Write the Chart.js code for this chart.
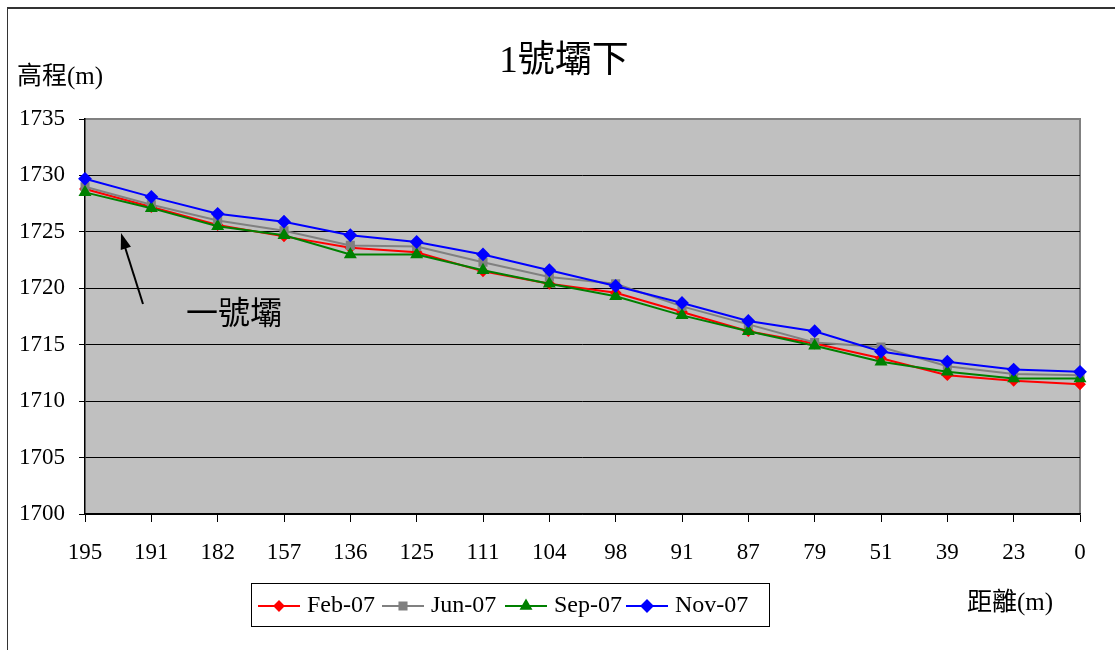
<!DOCTYPE html>
<html>
<head>
<meta charset="utf-8">
<script src="https://cdn.jsdelivr.net/npm/chart.js@4"></script>
<style>
  html, body { margin: 0; padding: 0; background: #fff; overflow: hidden; }
  #frame { position: absolute; left: 7px; top: 7px; width: 1200px; height: 700px;
           border-top: 2px solid #333; border-left: 1px solid #333; }
  #chart { position: absolute; left: 0; top: 0; }
</style>
</head>
<body>
<div id="frame"></div>
<canvas id="chart" width="1115" height="650"></canvas>
<script>
// 距離 (m) 測點
const distances = ['195', '191', '182', '157', '136', '125', '111', '104', '98', '91', '87', '79', '51', '39', '23', '0'];

// 各次測量高程 (m)
const feb07 = [1728.8, 1727.2, 1725.6, 1724.6, 1723.6, 1723.2, 1721.5, 1720.4, 1719.6, 1717.9, 1716.2, 1715.1, 1713.8, 1712.3, 1711.8, 1711.5];
const jun07 = [1729.0, 1727.4, 1726.0, 1725.1, 1723.8, 1723.7, 1722.3, 1721.0, 1720.4, 1718.4, 1716.8, 1715.2, 1714.8, 1713.1, 1712.4, 1712.3];
const sep07 = [1728.5, 1727.1, 1725.5, 1724.7, 1723.0, 1723.0, 1721.6, 1720.4, 1719.3, 1717.6, 1716.2, 1714.9, 1713.5, 1712.6, 1712.0, 1712.0];
const nov07 = [1729.7, 1728.1, 1726.6, 1725.9, 1724.7, 1724.1, 1723.0, 1721.6, 1720.2, 1718.7, 1717.1, 1716.2, 1714.4, 1713.5, 1712.8, 1712.6];

const yMin = 1700;
const yMax = 1735;
const yStep = 5;

const FONT = "'Liberation Serif', 'Noto Sans CJK TC', serif";

// 繪圖區底色與外框
const plotBackground = {
    id: 'plotBackground',
    beforeDraw(chart) {
        const { ctx, chartArea: a } = chart;
        ctx.save();
        ctx.fillStyle = '#c0c0c0';
        ctx.fillRect(a.left, a.top, a.right - a.left, a.bottom - a.top);
        ctx.strokeStyle = '#808080';
        ctx.lineWidth = 2;
        ctx.beginPath();
        ctx.moveTo(a.left, a.top);
        ctx.lineTo(a.right, a.top);
        ctx.lineTo(a.right, a.bottom);
        ctx.stroke();
        ctx.restore();
    }
};

// 標題、軸名稱、圖例與註記
const decorations = {
    id: 'decorations',
    afterDraw(chart) {
        const ctx = chart.ctx;
        ctx.save();
        ctx.fillStyle = '#000';
        ctx.textBaseline = 'middle';

        ctx.font = '37px ' + FONT;
        ctx.textAlign = 'center';
        ctx.fillText('1號壩下', 564, 62);

        ctx.font = '25px ' + FONT;
        ctx.textAlign = 'left';
        ctx.fillText('高程(m)', 17, 77);
        ctx.fillText('距離(m)', 967, 603);

        ctx.font = '32px ' + FONT;
        ctx.fillText('一號壩', 186, 316);

        // 箭頭
        ctx.strokeStyle = '#000';
        ctx.lineWidth = 2;
        ctx.beginPath();
        ctx.moveTo(143, 304);
        ctx.lineTo(124, 244);
        ctx.stroke();
        const ang = Math.atan2(234 - 304, 121 - 143);
        ctx.beginPath();
        ctx.moveTo(121, 233);
        ctx.lineTo(121 - 17 * Math.cos(ang - 0.32), 233 - 17 * Math.sin(ang - 0.32));
        ctx.lineTo(121 - 17 * Math.cos(ang + 0.32), 233 - 17 * Math.sin(ang + 0.32));
        ctx.closePath();
        ctx.fill();

        // 圖例
        ctx.strokeStyle = '#000';
        ctx.lineWidth = 1;
        ctx.strokeRect(251.5, 583.5, 518, 43);
        const itemX = [258, 382, 505, 626];
        ctx.font = '24px ' + FONT;
        chart.data.datasets.forEach((ds, i) => {
            const x = itemX[i];
            const y = 606;
            ctx.strokeStyle = ds.borderColor;
            ctx.lineWidth = 2;
            ctx.beginPath();
            ctx.moveTo(x, y);
            ctx.lineTo(x + 42, y);
            ctx.stroke();
            ctx.fillStyle = ds.pointBackgroundColor;
            ctx.strokeStyle = ds.borderColor;
            Chart.helpers.drawPoint(ctx, {
                pointStyle: ds.pointStyle,
                radius: ds.pointRadius,
                rotation: 0,
                borderWidth: 1
            }, x + 21, y);
            ctx.fillStyle = '#000';
            ctx.fillText(ds.label, x + 49, y);
        });
        ctx.restore();
    }
};

function series(label, data, color, style, radius, order) {
    return {
        label: label,
        data: data,
        borderColor: color,
        backgroundColor: color,
        pointBackgroundColor: color,
        pointBorderColor: color,
        pointStyle: style,
        pointRadius: radius,
        borderWidth: 2,
        tension: 0,
        order: order
    };
}

new Chart(document.getElementById('chart'), {
    type: 'line',
    data: {
        labels: distances,
        datasets: [
            series('Feb-07', feb07, '#ff0000', 'rectRot', 4.5, 3),
            series('Jun-07', jun07, '#808080', 'rect', 5, 2),
            series('Sep-07', sep07, '#008000', 'triangle', 5.5, 1),
            series('Nov-07', nov07, '#0000ff', 'rectRot', 5.5, 0)
        ]
    },
    options: {
        responsive: false,
        animation: false,
        devicePixelRatio: 1,
        layout: { padding: { top: 119, right: 35, left: 0, bottom: 0 } },
        plugins: {
            legend: { display: false },
            title: { display: false },
            tooltip: { enabled: false }
        },
        scales: {
            x: {
                type: 'category',
                offset: false,
                afterFit(scale) { scale.height = 136; },
                grid: {
                    drawOnChartArea: false,
                    drawTicks: true,
                    tickLength: 8,
                    color: '#000'
                },
                border: { color: '#000', width: 1.5 },
                ticks: {
                    color: '#000',
                    padding: 17,
                    maxRotation: 0,
                    autoSkip: false,
                    font: { family: FONT, size: 23 }
                }
            },
            y: {
                min: yMin,
                max: yMax,
                afterFit(scale) { scale.width = 85; },
                grid: {
                    color: ctx => (ctx.tick && ctx.tick.value === yMax ? '#808080' : '#000'),
                    tickColor: '#000',
                    tickLength: 6
                },
                border: { color: '#000', width: 1.5 },
                ticks: {
                    stepSize: yStep,
                    color: '#000',
                    padding: 14,
                    font: { family: FONT, size: 23 },
                    callback: value => String(value)
                }
            }
        }
    },
    plugins: [plotBackground, decorations]
});
</script>
</body>
</html>
